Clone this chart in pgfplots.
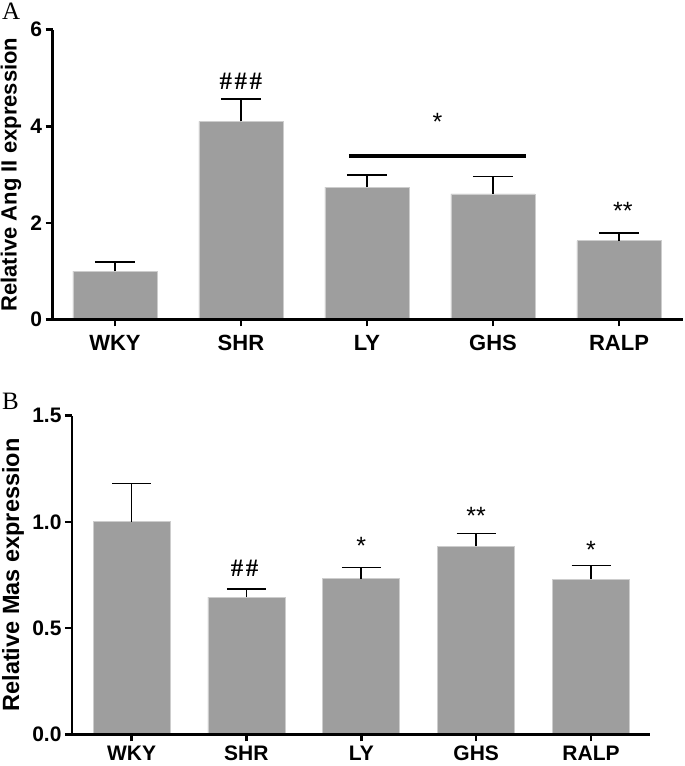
\documentclass[border=0pt]{standalone}
\usepackage{fontspec}
\setmainfont{Liberation Sans}
\newfontfamily\serifA{Liberation Serif}
\usepackage{pgfplots}
\pgfplotsset{compat=1.18}
\definecolor{barfill}{RGB}{158,158,158}
\definecolor{baredge}{RGB}{205,205,205}
\pgfplotsset{
  panel/.style={
    scale only axis,
    axis x line*=bottom, axis y line*=left,
    axis line style={line width=2.6pt, -},
    every tick/.style={line width=2.6pt, black},
    major tick length=7pt,
    tick align=outside,
    axis on top=true,
    xtick=data,
    xticklabels={WKY,SHR,LY,GHS,RALP},
    ymin=0,
    /pgf/number format/assume math mode=true,
    ticklabel style={font=\bfseries\fontsize{21}{21}\selectfont},
    ylabel style={anchor=center},
    clip=false,
  },
  errbar/.style={
    ybar, fill=barfill, draw=baredge, line width=0.8pt,
    error bars/.cd, y dir=plus, y explicit,
    error bar style={line width=1.6pt, black},
    error mark options={line width=1.6pt, black, mark size=#1, rotate=90},
  },
}
\newcommand{\hashes}[1]{{\serifA\bfseries\fontsize{25}{25}\selectfont #1}}
\begin{document}
\begin{tikzpicture}
\useasboundingbox (0pt,0pt) rectangle (685pt,766pt);
% Panel A
\begin{axis}[panel,
  at={(52.7pt,446.5pt)}, anchor=south west,
  width=630.3pt, height=289.8pt,
  xmin=-0.494, xmax=4.508,
  ymax=6, ytick={0,2,4,6},
  xticklabel style={font=\bfseries\fontsize{22}{22}\selectfont, yshift=-5pt},
  ylabel={Relative Ang II expression},
  ylabel style={font=\bfseries\fontsize{22}{22}\selectfont, at={(axis description cs:-0.066,0.5)}},
  bar width=84pt,
]
\addplot[errbar=20pt] coordinates {
  (0,1.00) +- (0,0.19)
  (1,4.10) +- (0,0.47)
  (2,2.74) +- (0,0.25)
  (3,2.60) +- (0,0.36)
  (4,1.63) +- (0,0.16)
};
\addplot[line width=4pt, black, mark=none] coordinates {(1.857,3.385) (3.262,3.385)};
\node[anchor=north, inner sep=0pt] at (axis cs:1,5.11) {\hashes{\#\kern2.5pt\#\kern2.5pt\#}};
\node[anchor=north, inner sep=0pt, font=\fontsize{25}{25}\selectfont] at (axis cs:2.56,4.28) {*};
\node[anchor=north, inner sep=0pt, font=\fontsize{25}{25}\selectfont] at (axis cs:4.03,2.44) {**};
\end{axis}
% Panel B
\begin{axis}[panel,
  at={(72pt,31.7pt)}, anchor=south west,
  width=578pt, height=318.6pt,
  xmin=-0.518, xmax=4.513,
  ymax=1.5, ytick={0,0.5,1.0,1.5},
  xticklabel style={yshift=-1pt},
  yticklabel style={/pgf/number format/.cd, fixed, fixed zerofill, precision=1},
  ylabel={Relative Mas expression},
  ylabel style={font=\bfseries\fontsize{23.5}{23.5}\selectfont, at={(axis description cs:-0.102,0.5)}},
  bar width=77pt,
]
\addplot[errbar=19.5pt] coordinates {
  (0,1.000) +- (0,0.180)
  (1,0.646) +- (0,0.037)
  (2,0.733) +- (0,0.052)
  (3,0.885) +- (0,0.060)
  (4,0.730) +- (0,0.064)
};
\node[anchor=north, inner sep=0pt] at (axis cs:0.985,0.82) {\hashes{\#\kern2.5pt\#}};
\node[anchor=north, inner sep=0pt, font=\fontsize{25}{25}\selectfont] at (axis cs:2,0.929) {*};
\node[anchor=north, inner sep=0pt, font=\fontsize{25}{25}\selectfont] at (axis cs:3,1.07) {**};
\node[anchor=north, inner sep=0pt, font=\fontsize{25}{25}\selectfont] at (axis cs:4,0.91) {*};
\end{axis}
\node[anchor=base west, inner sep=0pt, font=\serifA\fontsize{25}{25}\selectfont] at (2pt,746pt) {A};
\node[anchor=base west, inner sep=0pt, font=\serifA\fontsize{25}{25}\selectfont] at (2pt,356pt) {B};
\end{tikzpicture}
\end{document}
